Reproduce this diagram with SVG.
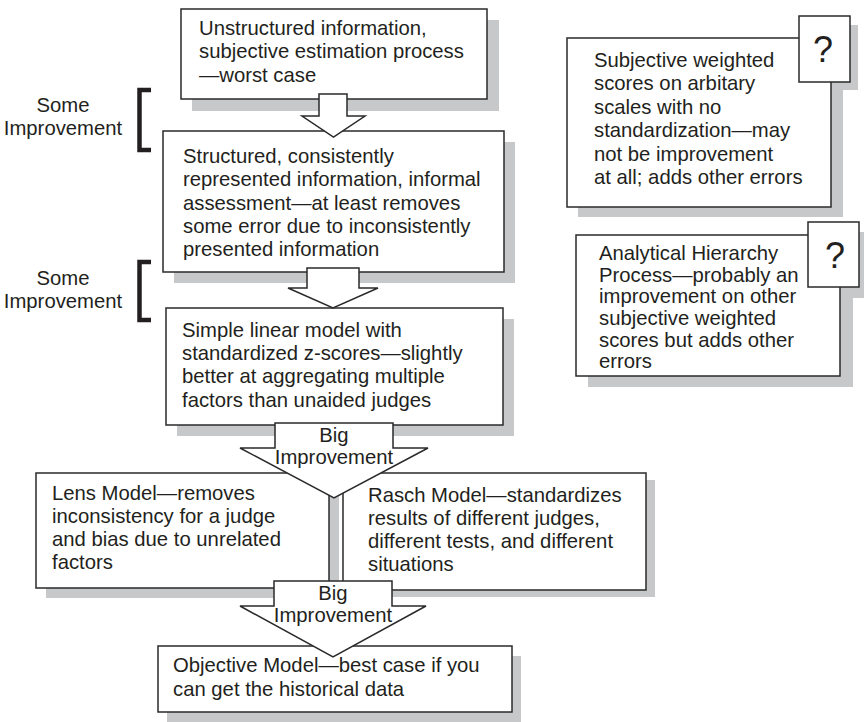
<svg xmlns="http://www.w3.org/2000/svg" width="864" height="722" viewBox="0 0 864 722">
<defs>
<style>
.t{font-family:"Liberation Sans",Arial,sans-serif;font-size:20.3px;fill:#231f20}
.q{font-family:"Liberation Sans",Arial,sans-serif;font-size:36px;fill:#231f20;text-anchor:middle}
.c{text-anchor:middle}
.box{fill:#fff;stroke:#2a2a2a;stroke-width:1.5}
.sh{fill:#c7c8ca}
.arr{fill:#fff;stroke:#2a2a2a;stroke-width:1.5;stroke-linejoin:miter}
.br{fill:none;stroke:#231f20;stroke-width:4.5}
</style>
</defs>
<rect width="864" height="722" fill="#fff"/>

<g id="shadows">
<rect class="sh" x="192" y="20" width="307" height="91"/>
<rect class="sh" x="174" y="142" width="341" height="141"/>
<rect class="sh" x="177" y="319" width="337" height="117"/>
<rect class="sh" x="46" y="484" width="293" height="114"/>
<rect class="sh" x="352" y="480" width="303" height="117"/>
<rect class="sh" x="167" y="656" width="354" height="66"/>
<rect class="sh" x="808" y="25" width="50" height="65"/>
<rect class="sh" x="578" y="48" width="265" height="169"/>
<rect class="sh" x="818" y="232" width="50" height="66"/>
<rect class="sh" x="588" y="247" width="265" height="140"/>
</g>

<g id="label-some-1">
<text class="t c" x="63" y="112">Some</text>
<text class="t c" x="63" y="135">Improvement</text>
<path class="br" d="M151,90 H139.5 V150 H151"/>
</g>
<g id="label-some-2">
<text class="t c" x="63" y="285">Some</text>
<text class="t c" x="63" y="308">Improvement</text>
<path class="br" d="M151,262 H139.5 V320 H151"/>
</g>

<g id="n1">
<rect class="box" x="181" y="9" width="306" height="90"/>
<text class="t" x="199" y="35">Unstructured information,</text>
<text class="t" x="199" y="58">subjective estimation process</text>
<text class="t" x="199" y="82">—worst case</text>
</g>

<g id="n2">
<rect class="box" x="163" y="131" width="341" height="141"/>
<text class="t" x="183" y="163">Structured, consistently</text>
<text class="t" x="183" y="186">represented information, informal</text>
<text class="t" x="183" y="210">assessment—at least removes</text>
<text class="t" x="183" y="233">some error due to inconsistently</text>
<text class="t" x="183" y="256">presented information</text>
</g>

<g id="n3">
<rect class="box" x="166" y="308" width="337" height="117"/>
<text class="t" x="182" y="337">Simple linear model with</text>
<text class="t" x="182" y="360">standardized z-scores—slightly</text>
<text class="t" x="182" y="383">better at aggregating multiple</text>
<text class="t" x="182" y="407">factors than unaided judges</text>
</g>

<g id="n4">
<rect class="box" x="36" y="473" width="293" height="115"/>
<text class="t" x="52" y="500">Lens Model—removes</text>
<text class="t" x="52" y="523">inconsistency for a judge</text>
<text class="t" x="52" y="546">and bias due to unrelated</text>
<text class="t" x="52" y="569">factors</text>
</g>

<g id="n5">
<rect class="box" x="343" y="473" width="303" height="117"/>
<text class="t" x="368" y="502">Rasch Model—standardizes</text>
<text class="t" x="368" y="525">results of different judges,</text>
<text class="t" x="368" y="548">different tests, and different</text>
<text class="t" x="368" y="571">situations</text>
</g>

<g id="n6">
<rect class="box" x="158" y="646" width="354" height="66"/>
<text class="t" x="173" y="672">Objective Model—best case if you</text>
<text class="t" x="173" y="696">can get the historical data</text>
</g>

<g id="n7">
<rect class="box" x="567" y="38" width="264" height="169"/>
<text class="t" x="594" y="67">Subjective weighted</text>
<text class="t" x="594" y="90">scores on arbitary</text>
<text class="t" x="594" y="114">scales with no</text>
<text class="t" x="594" y="137">standardization—may</text>
<text class="t" x="594" y="161">not be improvement</text>
<text class="t" x="594" y="184">at all; adds other errors</text>
<rect class="box" x="799" y="16" width="51" height="66"/>
<text class="q" x="823" y="62">?</text>
</g>

<g id="n8">
<rect class="box" x="576" y="235" width="264" height="141"/>
<text class="t" x="599" y="260">Analytical Hierarchy</text>
<text class="t" x="599" y="282">Process—probably an</text>
<text class="t" x="599" y="303">improvement on other</text>
<text class="t" x="599" y="325">subjective weighted</text>
<text class="t" x="599" y="347">scores but adds other</text>
<text class="t" x="599" y="368">errors</text>
<rect class="box" x="808" y="222" width="51" height="65"/>
<text class="q" x="835" y="268">?</text>
</g>

<g id="connectors">
<path class="arr" d="M319,94 H347 V116 H365 L333.5,137 L302,116 H319 Z"/>
<path class="arr" d="M307,268 H359 V288 H378 L333,308 L288,288 H307 Z"/>
<path class="arr" d="M275,423 H393 V448 H428 L334,498 L240,448 H275 Z"/>
<text class="t c" x="334" y="442">Big</text>
<text class="t c" x="334" y="464">Improvement</text>
<path class="arr" d="M274,581 H392 V606 H426 L333,657 L240,606 H274 Z"/>
<text class="t c" x="333" y="600">Big</text>
<text class="t c" x="333" y="622">Improvement</text>
</g>
</svg>
